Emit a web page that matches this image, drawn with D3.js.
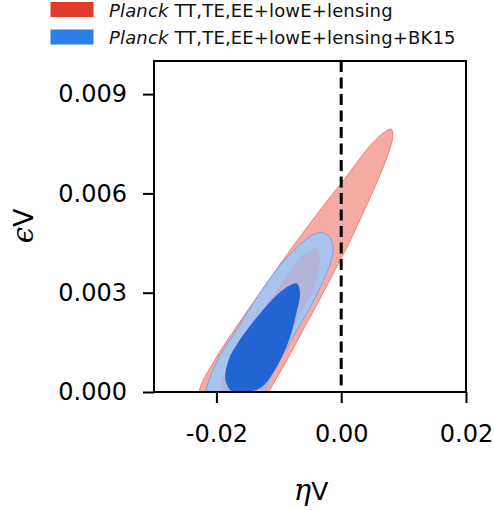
<!DOCTYPE html>
<html><head><meta charset="utf-8">
<script src="https://cdn.jsdelivr.net/npm/d3@7"></script>
<style>body{margin:0;background:#fff}svg{display:block}</style>
</head><body>
<script>
// ---- data (eta_V, epsilon_V) contour boundaries ----
const xTicks = [-0.02, 0.00, 0.02];
const yTicks = [0.000, 0.003, 0.006, 0.009];
const xTickLabels = ["-0.02", "0.00", "0.02"];
const yTickLabels = ["0.000", "0.003", "0.006", "0.009"];
const legendLabels = ["TT,TE,EE+lowE+lensing", "TT,TE,EE+lowE+lensing+BK15"];
const refLine = 0.0;

const red95 = [[0.00806,0.00794],[0.00823,0.00767],[0.00758,0.00722],[0.00661,0.00674],[0.00548,0.00623],
  [0.00419,0.00569],[0.00258,0.00503],[0.00081,0.00433],[-0.00129,0.00358],[-0.00371,0.00271],[-0.00613,0.00187],
  [-0.00871,0.00096],[-0.01145,0.00006],[-0.01306,-0.00054],[-0.0171,-0.00099],[-0.02194,-0.0006],
  [-0.02274,0.0],[-0.02048,0.0009],[-0.01661,0.00202],[-0.01274,0.00307],[-0.00823,0.00427],
  [-0.00468,0.00517],[-0.00177,0.00589],[0.00065,0.00646],[0.00306,0.00707],[0.00516,0.00755],[0.00694,0.00785]];
const red68 = [[-0.00387,0.00433],[-0.00339,0.00409],[-0.00371,0.00352],[-0.00452,0.00307],[-0.00661,0.00232],
  [-0.00855,0.00156],[-0.01048,0.00072],[-0.01226,0.0],[-0.01387,-0.00054],[-0.0179,-0.00054],
  [-0.01919,0.00021],[-0.01758,0.00096],[-0.01468,0.00187],[-0.01145,0.00277],[-0.00871,0.00352],
  [-0.00629,0.00412],[-0.00484,0.0043]];
const blue95 = [[-0.0029,0.00481],[-0.00177,0.00466],[-0.00129,0.00436],[-0.00161,0.00397],[-0.00306,0.00328],
  [-0.005,0.00256],[-0.00774,0.00165],[-0.01016,0.00087],[-0.01194,0.00015],[-0.01339,-0.00039],
  [-0.01758,-0.0006],[-0.02145,-0.00024],[-0.02161,0.00006],[-0.01984,0.00096],[-0.01677,0.00187],
  [-0.01306,0.00298],[-0.00871,0.00406],[-0.00452,0.00475]];
const blue68 = [[-0.0071,0.00328],[-0.00661,0.00301],[-0.00726,0.00232],[-0.00855,0.00147],[-0.01065,0.00066],
  [-0.01274,0.00015],[-0.01548,-0.00003],[-0.01758,0.00003],[-0.01855,0.00036],[-0.01806,0.00096],
  [-0.01629,0.00156],[-0.01258,0.00247],[-0.00984,0.00301],[-0.00823,0.00322]];

const W = 494, H = 510;
const m = {left:154, right:466, top:61, bottom:392};
const svg = d3.select("body").append("svg").attr("width", W).attr("height", H);

const x = d3.scaleLinear().domain([-0.03, 0.02]).range([m.left, m.right]);
const y = d3.scaleLinear().domain([0, 0.01]).range([m.bottom, m.top]);

svg.append("clipPath").attr("id","plotclip").append("rect")
  .attr("x", m.left).attr("y", m.top).attr("width", m.right-m.left).attr("height", m.bottom-m.top);

const line = d3.line().x(d=>x(d[0])).y(d=>y(d[1])).curve(d3.curveCatmullRomClosed.alpha(0.5));
const g = svg.append("g").attr("clip-path","url(#plotclip)");

g.append("path").attr("d", line(red95)).attr("fill","#f5aaa3").attr("stroke","#ec8277").attr("stroke-width",1);
g.append("path").attr("d", line(blue95)).attr("fill","#a8c3ee").attr("stroke","#7ba1e4").attr("stroke-width",1);
g.append("path").attr("d", line(red68)).attr("fill","#b3b3dc");
g.append("path").attr("d", line(blue68)).attr("fill","#2264d2");

// dashed reference line
svg.append("line").attr("x1", x(refLine)).attr("x2", x(refLine)).attr("y1", m.top).attr("y2", m.bottom)
  .attr("stroke","#000").attr("stroke-width",3).attr("stroke-dasharray","11,5.5");

// axes
const xAxis = d3.axisBottom(x).tickValues(xTicks).tickFormat((d,i)=>xTickLabels[i]).tickSize(11).tickPadding(20);
const yAxis = d3.axisLeft(y).tickValues(yTicks).tickFormat((d,i)=>yTickLabels[i]).tickSize(11).tickPadding(16);
const gx = svg.append("g").attr("transform",`translate(0,${m.bottom})`).call(xAxis);
const gy = svg.append("g").attr("transform",`translate(${m.left},0)`).call(yAxis);
[gx, gy].forEach(a=>{
  a.select(".domain").remove();
  a.selectAll(".tick line").attr("stroke","#000").attr("stroke-width",2);
  a.selectAll(".tick text").attr("font-family","DejaVu Sans").attr("font-size",24).attr("fill","#000");
});
gx.selectAll(".tick text").attr("dy","0.78em");

// frame
svg.append("rect").attr("x", m.left).attr("y", m.top).attr("width", m.right-m.left).attr("height", m.bottom-m.top)
  .attr("fill","none").attr("stroke","#000").attr("stroke-width",2);

// axis labels
const xl = svg.append("text").attr("x", 311).attr("y", 500).attr("text-anchor","middle").attr("font-size",29);
xl.append("tspan").attr("font-family","DejaVu Serif").attr("font-style","italic").text("η");
xl.append("tspan").attr("font-family","DejaVu Sans").attr("font-size",25).text("V");
const yl = svg.append("text").attr("transform","translate(33,226) rotate(-90)").attr("text-anchor","middle").attr("font-size",29);
yl.append("tspan").attr("font-family","DejaVu Serif").attr("font-style","italic").text("ϵ");
yl.append("tspan").attr("font-family","DejaVu Sans").attr("font-size",27).text("V");

// legend
const legColors = ["#e13b2b", "#2b7fe6"];
legendLabels.forEach((lab,i)=>{
  const yy = 2 + i*27.5;
  svg.append("rect").attr("x",50.5).attr("y",yy).attr("width",43).attr("height",15).attr("fill",legColors[i]);
  const t = svg.append("text").attr("x",109).attr("y",yy+14.5).attr("font-family","DejaVu Sans").attr("font-size",18).attr("letter-spacing",0.15).attr("fill","#111");
  t.append("tspan").attr("font-style","italic").text("Planck");
  t.append("tspan").text(" " + lab);
});
</script>
</body></html>
